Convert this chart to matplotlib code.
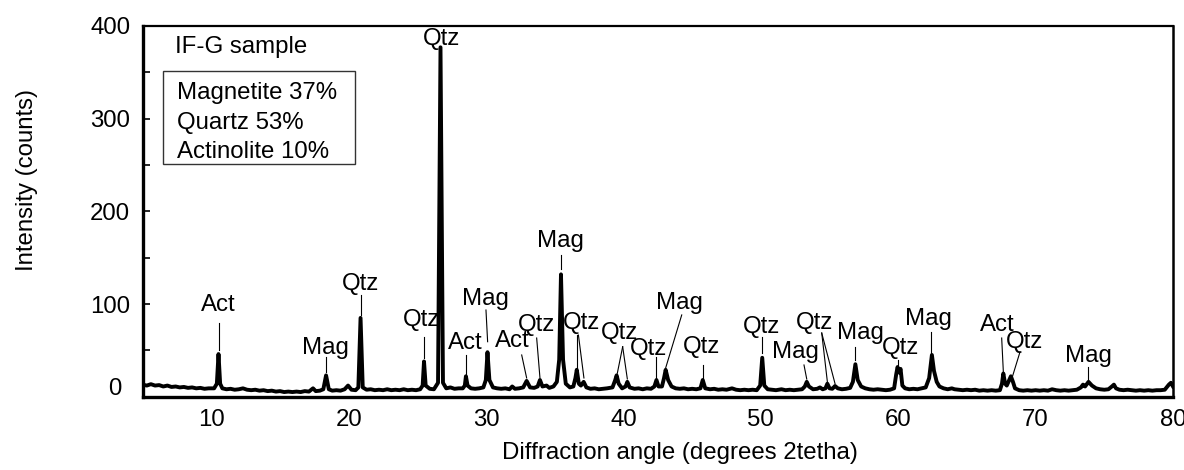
import matplotlib
matplotlib.use("Agg")
import matplotlib.pyplot as plt
from matplotlib.patches import Rectangle
from matplotlib.transforms import ScaledTranslation

plt.rcParams['font.family'] = ['Liberation Sans', 'DejaVu Sans']

# ---- XRD trace (2theta in degrees, intensity in counts) ----
two_theta = [
    5.0, 5.3, 5.6, 5.9, 6.2, 6.5, 6.8, 7.1, 7.4, 7.7, 8.0, 8.3, 8.6, 8.9, 9.2, 9.5, 9.8,
    10.2, 10.4, 10.52, 10.64, 10.8, 11.1, 11.4, 11.7, 12.0, 12.3, 12.6, 12.9, 13.2, 13.5,
    13.8, 14.1, 14.4, 14.7, 15.0, 15.3, 15.6, 15.9, 16.2, 16.5, 16.8, 17.1, 17.4, 17.6,
    17.9, 18.15, 18.35, 18.55, 18.8, 19.1, 19.4, 19.7, 19.95, 20.2, 20.5, 20.7, 20.86,
    21.02, 21.3, 21.6, 21.9, 22.2, 22.5, 22.8, 23.1, 23.4, 23.7, 24.0, 24.3, 24.6, 24.9,
    25.2, 25.38, 25.48, 25.6, 25.9, 26.2, 26.5, 26.68, 26.86, 27.1, 27.4, 27.7, 28.0,
    28.3, 28.45, 28.53, 28.65, 28.9, 29.2, 29.5, 29.8, 29.98, 30.1, 30.24, 30.5, 30.8,
    31.1, 31.4, 31.7, 31.9, 32.1, 32.4, 32.7, 32.95, 33.2, 33.5, 33.75, 33.92, 34.1,
    34.4, 34.6, 34.9, 35.15, 35.32, 35.45, 35.6, 35.8, 36.1, 36.35, 36.5, 36.6, 36.75,
    36.9, 37.1, 37.3, 37.6, 37.9, 38.2, 38.5, 38.8, 39.2, 39.4, 39.5, 39.65, 39.9,
    40.15, 40.28, 40.45, 40.8, 41.1, 41.4, 41.7, 42.0, 42.25, 42.4, 42.55, 42.8, 42.95,
    43.07, 43.25, 43.5, 43.8, 44.1, 44.4, 44.7, 45.0, 45.3, 45.6, 45.77, 45.95, 46.3,
    46.6, 46.9, 47.2, 47.5, 47.9, 48.2, 48.5, 48.8, 49.1, 49.4, 49.7, 49.95, 50.1,
    50.25, 50.5, 50.8, 51.1, 51.5, 51.8, 52.1, 52.4, 52.7, 53.0, 53.2, 53.34, 53.5,
    53.8, 54.1, 54.3, 54.5, 54.7, 54.84, 55.0, 55.2, 55.4, 55.6, 55.9, 56.2, 56.5,
    56.7, 56.88, 57.05, 57.3, 57.6, 57.9, 58.2, 58.5, 58.8, 59.1, 59.4, 59.7, 59.85,
    59.95, 60.07, 60.17, 60.3, 60.5, 60.8, 61.1, 61.4, 61.7, 62.0, 62.25, 62.45, 62.6,
    62.8, 63.0, 63.3, 63.6, 63.9, 64.1, 64.4, 64.7, 65.0, 65.3, 65.6, 65.9, 66.2, 66.5,
    66.8, 67.1, 67.4, 67.55, 67.65, 67.78, 67.9, 68.05, 68.2, 68.35, 68.5, 68.8, 69.1,
    69.4, 69.7, 70.0, 70.3, 70.6, 70.9, 71.2, 71.5, 71.8, 72.1, 72.4, 72.7, 73.0, 73.3,
    73.45, 73.6, 73.85, 74.1, 74.4, 74.7, 75.0, 75.3, 75.55, 75.7, 75.85, 76.1, 76.4,
    76.7, 77.0, 77.3, 77.6, 77.9, 78.2, 78.5, 78.8, 79.1, 79.4, 79.7, 79.85, 80.0,
]
counts = [
    13, 12, 13.5, 12, 12.5, 11, 12, 10.5, 11, 10, 10.5, 9.5, 10, 9, 9.5, 8.5, 9,
    9, 14, 46, 14, 9, 8, 8.5, 7.5, 8, 9, 7.5, 7, 7.5, 6.5,
    7, 6, 6.5, 5.5, 6, 5, 5.5, 5, 5.5, 5, 6, 5.5, 9, 6,
    6.5, 8, 23, 8, 6.5, 7, 6.5, 8, 12, 7.5, 7, 10, 85,
    10, 7.5, 8, 7, 7.5, 7, 8, 7, 7.5, 7, 8, 7, 7.5, 7,
    8, 12, 38, 12, 8.5, 8, 15, 377, 15, 9, 10, 8.5, 9,
    9, 12, 22, 12, 9, 8.5, 9, 10, 18, 48, 18, 10, 9,
    8.5, 9, 8, 11, 8.5, 9, 10, 17, 10, 9.5, 11, 18, 11,
    12, 9.5, 11, 16, 40, 132, 40, 14, 10, 11, 20, 29, 14,
    12, 16, 10, 8.5, 9, 8, 8.5, 9, 10, 18, 23, 14, 9,
    11, 16, 10, 8.5, 9, 8, 9, 8.5, 11, 18, 11, 11, 20,
    29, 18, 11, 9, 8.5, 9, 8, 8.5, 8, 9, 18, 9, 8,
    8.5, 7.5, 8, 7.5, 9, 7.5, 7, 7.5, 7, 7.5, 7, 12, 42,
    12, 8, 7.5, 7, 8, 7, 7.5, 7, 7.5, 8, 11, 16, 11,
    8, 8.5, 10, 8, 9, 14, 9, 8.5, 11.5, 9, 8, 8.5, 9.5,
    16, 35, 18, 11, 9, 8, 7.5, 8, 7.5, 7, 7.5, 9, 24,
    32, 26, 30, 12, 9, 8, 8.5, 8, 9, 10, 20, 45, 28,
    16, 11, 9, 8, 9, 8, 7.5, 7, 7.5, 7, 7.5, 6.5, 7, 6.5,
    7, 6.5, 7, 14, 25, 14, 12, 17, 22, 16, 9, 7, 6.5,
    7, 6.5, 7, 6.5, 7, 6.5, 8, 7, 6.5, 7, 6.5, 7, 7.5, 10,
    13, 11, 16, 12, 9, 8, 7.5, 8, 11, 13, 9, 7.5, 7,
    7.5, 7, 6.5, 7, 6.5, 7, 6.5, 7, 7, 7.5, 13, 15, 11,
]

# ---- phase labels (text, x, y in data units) ----
label_text = ["Act", "Mag", "Qtz", "Qtz", "Qtz", "Act", "Mag", "Act", "Qtz", "Mag",
              "Qtz", "Qtz", "Qtz", "Mag", "Qtz", "Qtz", "Mag", "Qtz", "Mag", "Qtz",
              "Mag", "Act", "Qtz", "Mag"]
label_x = [10.48, 18.27, 20.89, 25.31, 26.76, 28.51, 29.97, 31.88, 33.68, 35.43,
           36.98, 39.75, 41.86, 44.04, 45.71, 50.08, 52.54, 53.94, 57.22, 60.18,
           62.22, 67.19, 69.21, 73.83]
label_y = [98.9, 52.5, 121.6, 82.8, 386, 57.9, 105.4, 60.1, 77.4, 168,
           79.6, 68.7, 51.5, 101.1, 53.6, 75.3, 48.2, 79.6, 68.7, 52.5,
           83.8, 77.4, 59.3, 44.2]

# leader lines: (x_start, y_start, x_end, y_end)
leaders = [
    (10.58, 79.5, 10.58, 50.4), (18.34, 42.8, 18.34, 26.7), (20.89, 109.7, 20.89, 88.2),
    (25.48, 64.4, 25.48, 41.7), (28.53, 45.0, 28.53, 23.4), (29.99, 93.5, 30.11, 59.3),
    (32.59, 45.0, 32.95, 20.2), (33.68, 63.3, 33.92, 20.2), (35.45, 152.9, 35.45, 137.8),
    (36.59, 66.5, 36.59, 31.0), (36.72, 66.5, 37.12, 20.2), (39.94, 53.9, 39.55, 25.2),
    (39.94, 53.9, 40.28, 19.1), (42.37, 42.8, 42.37, 20.2), (44.24, 88.2, 43.07, 31.0),
    (45.77, 34.2, 45.77, 20.2), (50.10, 64.4, 50.10, 47.2), (53.14, 34.2, 53.34, 19.0),
    (54.43, 68.7, 54.84, 16.2), (54.43, 68.7, 55.40, 14.0), (56.85, 53.9, 56.85, 39.6),
    (59.98, 39.6, 59.98, 33.5), (62.42, 70.1, 62.42, 47.2), (67.53, 63.3, 67.65, 27.0),
    (68.87, 48.6, 68.33, 22.5), (73.83, 32.4, 73.83, 17.0),
]

sample_name = "IF-G sample"
composition = ["Magnetite 37%", "Quartz 53%", "Actinolite 10%"]
x_ticks = [10, 20, 30, 40, 50, 60, 70, 80]
y_ticks = [0, 100, 200, 300, 400]
y_minor = [50, 150, 250, 350]

fs = 17.3
fig = plt.figure(figsize=(11.84, 4.70), dpi=100)
ax = fig.add_axes([0.1205, 0.156, 0.8702, 0.7887])

ax.plot(two_theta, counts, color='black', lw=2.8, solid_joinstyle='round')

for t, x, y in zip(label_text, label_x, label_y):
    ax.text(x, y, t, ha='center', va='center', fontsize=fs)
for x0, y0, x1, y1 in leaders:
    ax.plot([x0, x1], [y0, y1], color='black', lw=0.8)

ax.set_xlim(5, 80)
ax.set_ylim(0, 400)
ax.set_xticks(x_ticks)
ax.set_yticks(y_ticks)
ax.set_yticks(y_minor, minor=True)
ax.tick_params(axis='x', length=0, pad=9, labelsize=fs)
ax.tick_params(axis='y', which='both', direction='in', length=5, width=1.2, pad=9,
               labelsize=fs)
for s in ['left', 'bottom']:
    ax.spines[s].set_linewidth(2.4)
ax.spines['right'].set_linewidth(1.8)
ax.spines['top'].set_linewidth(1.6)

ax.set_xlabel("Diffraction angle (degrees 2tetha)", fontsize=fs, va='center')
ax.xaxis.set_label_coords(0.5215, -0.153)
ax.set_ylabel("Intensity (counts)", fontsize=fs, va='center')
ax.yaxis.set_label_coords(-0.1126, 0.585)

# shift the "0" label as in the reference
ylabels = ax.get_yticklabels()
ylabels[0].set_transform(ylabels[0].get_transform() +
                         ScaledTranslation(-0.09, 0.10, fig.dpi_scale_trans))

ax.text(0.0313, 0.944, sample_name, transform=ax.transAxes, ha='left', va='center',
        fontsize=fs)
ax.add_patch(Rectangle((0.020, 0.628), 0.186, 0.2514, transform=ax.transAxes,
                       fill=False, edgecolor='#333333', lw=1.0))
for i, line in enumerate(composition):
    ax.text(0.033, 0.819 - i * 0.0795, line, transform=ax.transAxes, ha='left',
            va='center', fontsize=fs)

fig.savefig("out.png", dpi=100)
